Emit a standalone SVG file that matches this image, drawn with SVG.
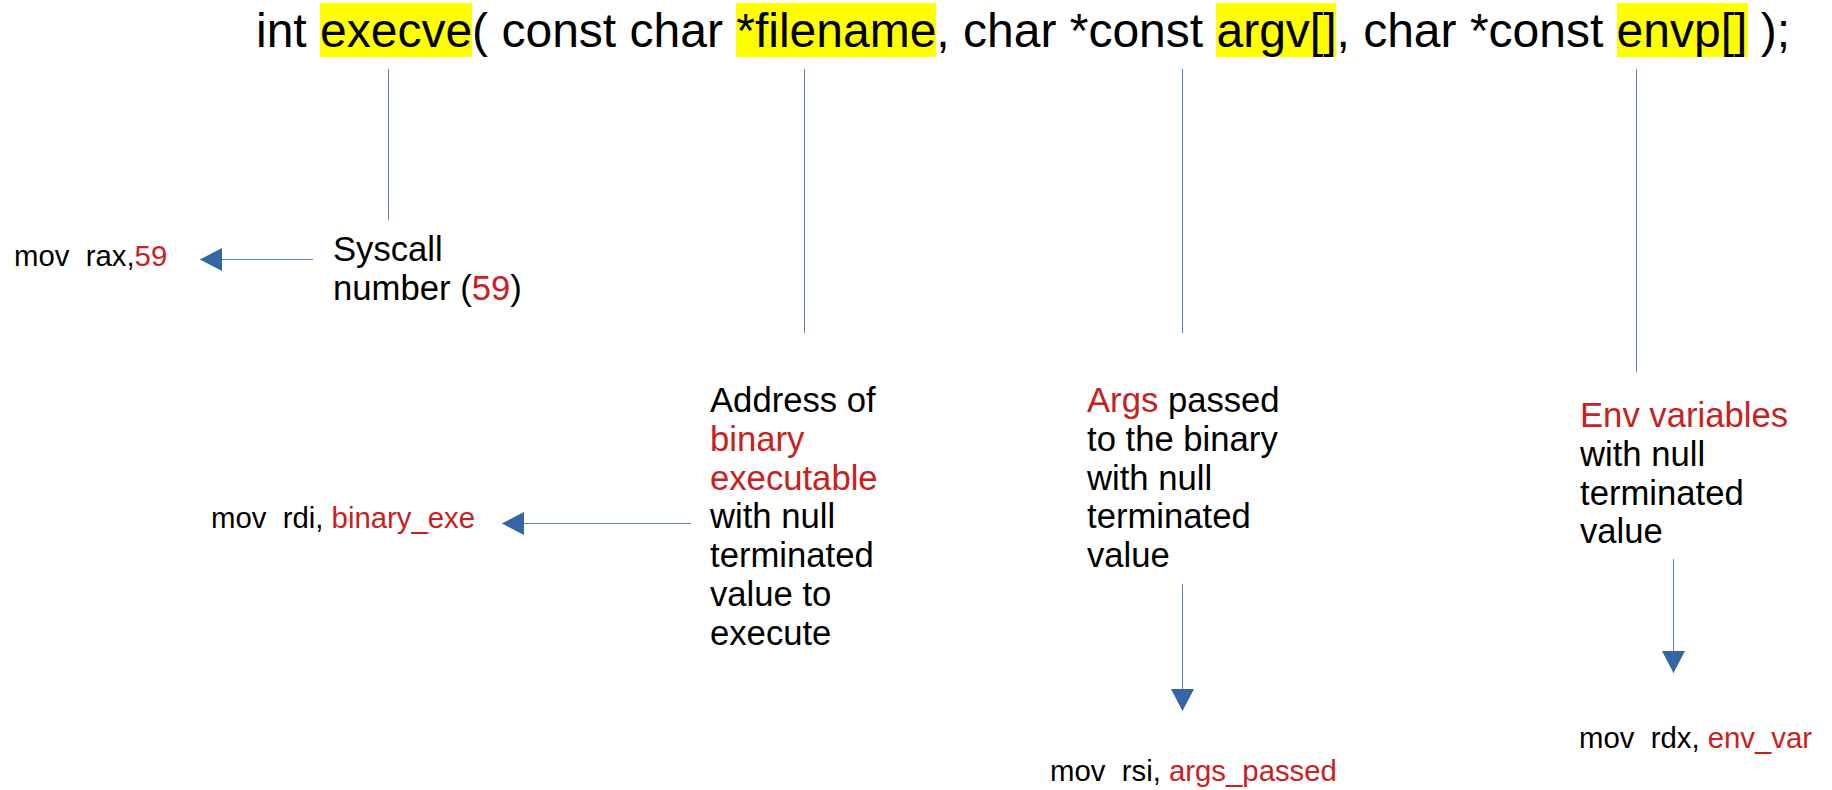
<svg xmlns="http://www.w3.org/2000/svg" width="1832" height="790" viewBox="0 0 1832 790">
  <style>
    text { font-family: "Liberation Sans", Arial, sans-serif; fill: #000000; white-space: pre; }
    .sig { font-size: 48px; }
    .note { font-size: 34.67px; }
    .asm { font-size: 29.33px; }
    .red { fill: #c9211e; }
    .hl { fill: #ffff00; }
    .lead { stroke: #5b80b6; stroke-width: 1; fill: none; }
    .arrow { stroke: #5b80b6; stroke-width: 1; fill: none; marker-end: url(#head); }
  </style>
  <defs>
    <marker id="head" viewBox="0 0 22 23" refX="22" refY="11.5" markerWidth="22" markerHeight="23" markerUnits="userSpaceOnUse" orient="auto">
      <path d="M0,0 L22,11.5 L0,23 Z" fill="#3465a4"/>
    </marker>
  </defs>
  <rect width="1832" height="790" fill="#ffffff"/>

  <!-- function signature with highlighted parameters -->
  <g id="signature">
    <rect class="hl" x="320" y="3" width="152" height="54"/>
    <rect class="hl" x="736" y="3" width="200" height="54"/>
    <rect class="hl" x="1216" y="3" width="120" height="54"/>
    <rect class="hl" x="1617" y="3" width="131" height="54"/>
    <text class="sig" x="256" y="46.5">int execve( const char *filename, char *const argv[], char *const envp[] );</text>
  </g>

  <!-- connectors -->
  <g id="connectors">
    <line class="lead" x1="388.5" y1="69" x2="388.5" y2="220"/>
    <line class="lead" x1="804.5" y1="69" x2="804.5" y2="333"/>
    <line class="lead" x1="1182.5" y1="69" x2="1182.5" y2="333"/>
    <line class="lead" x1="1636.5" y1="69" x2="1636.5" y2="372"/>
    <line class="arrow" x1="313" y1="259.5" x2="200" y2="259.5"/>
    <line class="arrow" x1="691" y1="523.5" x2="502" y2="523.5"/>
    <line class="arrow" x1="1182.5" y1="584" x2="1182.5" y2="711"/>
    <line class="arrow" x1="1673.5" y1="559" x2="1673.5" y2="673"/>
  </g>

  <g id="syscall-number">
    <text class="note" x="333" y="261">Syscall</text>
    <text class="note" x="333" y="300">number (<tspan class="red">59</tspan>)</text>
  </g>
  <g id="mov-rax">
    <text class="asm" x="14" y="265.5">mov  rax,<tspan class="red">59</tspan></text>
  </g>

  <g id="filename-desc">
    <text class="note" x="710" y="412">Address of</text>
    <text class="note red" x="710" y="450.8">binary</text>
    <text class="note red" x="710" y="489.6">executable</text>
    <text class="note" x="710" y="528.4">with null</text>
    <text class="note" x="710" y="567.2">terminated</text>
    <text class="note" x="710" y="606">value to</text>
    <text class="note" x="710" y="644.8">execute</text>
  </g>
  <g id="mov-rdi">
    <text class="asm" x="211" y="528">mov  rdi, <tspan class="red">binary_exe</tspan></text>
  </g>

  <g id="argv-desc">
    <text class="note" x="1087" y="412"><tspan class="red">Args</tspan> passed</text>
    <text class="note" x="1087" y="450.8">to the binary</text>
    <text class="note" x="1087" y="489.6">with null</text>
    <text class="note" x="1087" y="528.4">terminated</text>
    <text class="note" x="1087" y="567.2">value</text>
  </g>
  <g id="mov-rsi">
    <text class="asm" x="1050" y="781">mov  rsi, <tspan class="red">args_passed</tspan></text>
  </g>

  <g id="envp-desc">
    <text class="note red" x="1580" y="427">Env variables</text>
    <text class="note" x="1580" y="465.8">with null</text>
    <text class="note" x="1580" y="504.6">terminated</text>
    <text class="note" x="1580" y="543.4">value</text>
  </g>
  <g id="mov-rdx">
    <text class="asm" x="1579" y="748">mov  rdx, <tspan class="red">env_var</tspan></text>
  </g>
</svg>
